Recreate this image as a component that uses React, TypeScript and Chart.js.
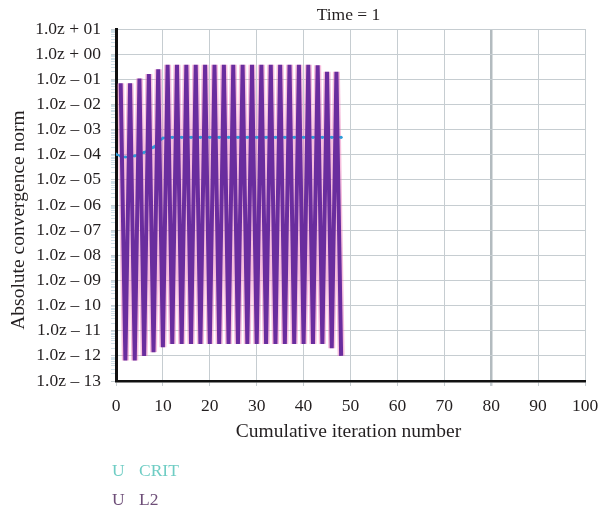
import React, { useEffect, useRef } from "react";
import { Chart, registerables } from "chart.js";

Chart.register(...registerables);

// ---- data ----
const l2Iterations = [
  1, 2, 3, 4, 5, 6, 7, 8, 9, 10, 11, 12, 13, 14, 15, 16, 17, 18, 19, 20, 21, 22, 23, 24,
  25, 26, 27, 28, 29, 30, 31, 32, 33, 34, 35, 36, 37, 38, 39, 40, 41, 42, 43, 44, 45, 46, 47, 48,
];
const l2Values = [
  0.069, 6.5e-13, 0.069, 6.5e-13, 0.107, 1.0e-12, 0.162, 1.4e-12, 0.25, 2.2e-12,
  0.38, 3.0e-12, 0.38, 3.0e-12, 0.38, 3.0e-12, 0.38, 3.0e-12, 0.38, 3.0e-12,
  0.38, 3.0e-12, 0.38, 3.0e-12, 0.38, 3.0e-12, 0.38, 3.0e-12, 0.38, 3.0e-12,
  0.38, 3.0e-12, 0.38, 3.0e-12, 0.38, 3.0e-12, 0.38, 3.0e-12, 0.38, 3.0e-12,
  0.38, 3.0e-12, 0.36, 3.0e-12, 0.2, 2.0e-12, 0.2, 1.0e-12,
];
const critIterations = [
  0, 1, 2, 3, 4, 5, 6, 7, 8, 9, 10, 11, 12, 13, 14, 15, 16, 17, 18, 19, 20, 21, 22, 23, 24,
  25, 26, 27, 28, 29, 30, 31, 32, 33, 34, 35, 36, 37, 38, 39, 40, 41, 42, 43, 44, 45, 46, 47, 48,
];
const critValues = [
  1.05e-4, 8.8e-5, 8.1e-5, 8.1e-5, 9.0e-5, 1.05e-4, 1.25e-4, 1.5e-4, 2.0e-4, 3.0e-4,
  4.6e-4, 4.9e-4, 4.9e-4, 4.9e-4, 4.9e-4, 4.9e-4, 4.9e-4, 4.9e-4, 4.9e-4, 4.9e-4,
  4.9e-4, 4.9e-4, 4.9e-4, 4.9e-4, 4.9e-4, 4.9e-4, 4.9e-4, 4.9e-4, 4.9e-4, 4.9e-4,
  4.9e-4, 4.9e-4, 4.9e-4, 4.9e-4, 4.9e-4, 4.9e-4, 4.9e-4, 4.9e-4, 4.9e-4, 4.9e-4,
  4.9e-4, 4.9e-4, 4.9e-4, 4.9e-4, 4.9e-4, 4.9e-4, 4.9e-4, 4.9e-4, 4.9e-4,
];
const xTickValues = [0, 10, 20, 30, 40, 50, 60, 70, 80, 90, 100];
const yExponents = [1, 0, -1, -2, -3, -4, -5, -6, -7, -8, -9, -10, -11, -12, -13];
const yTickLabels = [
  "1.0z + 01", "1.0z + 00", "1.0z – 01", "1.0z – 02", "1.0z – 03", "1.0z – 04",
  "1.0z – 05", "1.0z – 06", "1.0z – 07", "1.0z – 08", "1.0z – 09", "1.0z – 10",
  "1.0z – 11", "1.0z – 12", "1.0z – 13",
];
const chartTitle = "Time = 1";
const xAxisTitle = "Cumulative iteration number";
const yAxisTitle = "Absolute convergence norm";
const legendSymbols = ["U", "U"];
const legendLabels = ["CRIT", "L2"];

const FONT = "'Liberation Serif', 'Times New Roman', serif";
const TEXT = "#231f20";

function isMajor(v: number) {
  const e = Math.log10(v);
  return Math.abs(e - Math.round(e)) < 1e-6;
}

const textPlugin = {
  id: "texts",
  afterDraw(chart: any) {
    const { ctx, chartArea } = chart;
    ctx.save();
    ctx.fillStyle = TEXT;
    ctx.textAlign = "center";
    ctx.textBaseline = "middle";
    ctx.font = `17.5px ${FONT}`;
    ctx.fillText(chartTitle, (chartArea.left + chartArea.right) / 2 - 2, 15);
    ctx.font = `19.5px ${FONT}`;
    ctx.fillText(xAxisTitle, (chartArea.left + chartArea.right) / 2 - 2, 432);
    ctx.translate(19, 220);
    ctx.rotate(-Math.PI / 2);
    ctx.fillText(yAxisTitle, 0, 0);
    ctx.restore();
  },
};

export default function App() {
  const ref = useRef<HTMLCanvasElement>(null);

  useEffect(() => {
    document.body.style.margin = "0";
    const canvas = ref.current!;
    Chart.defaults.font.family = FONT;
    const l2Data = l2Iterations.map((x, i) => ({ x, y: l2Values[i] }));
    const critData = critIterations.map((x, i) => ({ x, y: critValues[i] }));
    const chart = new Chart(canvas, {
      type: "line",
      data: {
        datasets: [
          {
            label: "U L2",
            data: l2Data,
            borderColor: "#6a2d9e",
            borderWidth: 4,
            pointRadius: 0,
            tension: 0,
            order: 0,
          },
          {
            label: "U CRIT",
            data: critData,
            borderColor: "#2f9bd8",
            backgroundColor: "#2f9bd8",
            borderWidth: 2,
            pointRadius: 1.6,
            pointBorderWidth: 0,
            tension: 0,
            order: 1,
          },
          {
            label: "U L2 (halo)",
            data: l2Data,
            borderColor: "rgba(236,110,180,0.45)",
            borderWidth: 7,
            pointRadius: 0,
            tension: 0,
            order: 2,
          },
        ],
      },
      options: {
        responsive: false,
        animation: false,
        events: [],
        layout: { padding: { top: 29, right: 13, bottom: 81, left: 0 } },
        plugins: {
          legend: { display: false },
          title: { display: false },
          tooltip: { enabled: false },
        },
        scales: {
          x: {
            type: "linear",
            min: 0,
            max: 100,
            afterBuildTicks: (scale: any) => {
              scale.ticks = xTickValues.map((v) => ({ value: v }));
            },
            afterFit: (scale: any) => {
              scale.height = 50;
              scale.paddingLeft = 0;
              scale.paddingRight = 0;
            },
            ticks: {
              color: TEXT,
              font: { size: 17.5, family: FONT },
              padding: 10,
              maxRotation: 0,
              autoSkip: false,
            },
            grid: {
              color: (c: any) => (c.tick && c.tick.value === 80 ? "#b3bbbf" : "#c6cdd1"),
              lineWidth: (c: any) => (c.tick && c.tick.value === 80 ? 2.5 : 1),
              tickLength: 5,
              tickColor: "#c6cdd1",
            },
            border: { color: "#111", width: 2.5 },
          },
          y: {
            type: "logarithmic",
            min: 1e-13,
            max: 10,
            afterBuildTicks: (scale: any) => {
              const ticks: any[] = [];
              for (const e of yExponents) {
                ticks.push({ value: Math.pow(10, e) });
                if (e > -13) {
                  for (let k = 2; k <= 9; k++) ticks.push({ value: k * Math.pow(10, e - 1) });
                }
              }
              ticks.sort((a, b) => a.value - b.value);
              scale.ticks = ticks;
            },
            afterFit: (scale: any) => {
              scale.width = 116;
              scale.paddingTop = 0;
              scale.paddingBottom = 0;
            },
            ticks: {
              color: TEXT,
              font: { size: 17.5, family: FONT },
              padding: 10,
              autoSkip: false,
              callback: (v: any) => {
                const val = Number(v);
                if (!isMajor(val)) return "";
                const e = Math.round(Math.log10(val));
                const idx = yExponents.indexOf(e);
                return idx >= 0 ? yTickLabels[idx] : "";
              },
            },
            grid: {
              color: (c: any) => (c.tick && isMajor(c.tick.value) ? "#c6cdd1" : "rgba(0,0,0,0)"),
              tickLength: 5,
              tickColor: (c: any) => (c.tick && isMajor(c.tick.value) ? "#c6cdd1" : "#cfe0e8"),
            },
            border: { color: "#111", width: 3 },
          },
        },
      },
      plugins: [textPlugin],
    } as any);
    return () => chart.destroy();
  }, []);

  const legendColors = ["#6fcdc4", "#6e4e78"];
  return (
    <div style={{ position: "relative", width: 598, height: 512 }}>
      <canvas ref={ref} width={598} height={512} style={{ display: "block", width: 598, height: 512 }} />
      {legendLabels.map((lab, i) => (
        <div
          key={lab}
          style={{
            position: "absolute",
            left: 112,
            top: 460 + i * 29,
            height: 20,
            lineHeight: "20px",
            fontFamily: FONT,
            fontSize: "17.5px",
            color: legendColors[i],
            whiteSpace: "nowrap",
          }}
        >
          <span style={{ display: "inline-block", width: 27 }}>{legendSymbols[i]}</span>
          <span>{lab}</span>
        </div>
      ))}
    </div>
  );
}
